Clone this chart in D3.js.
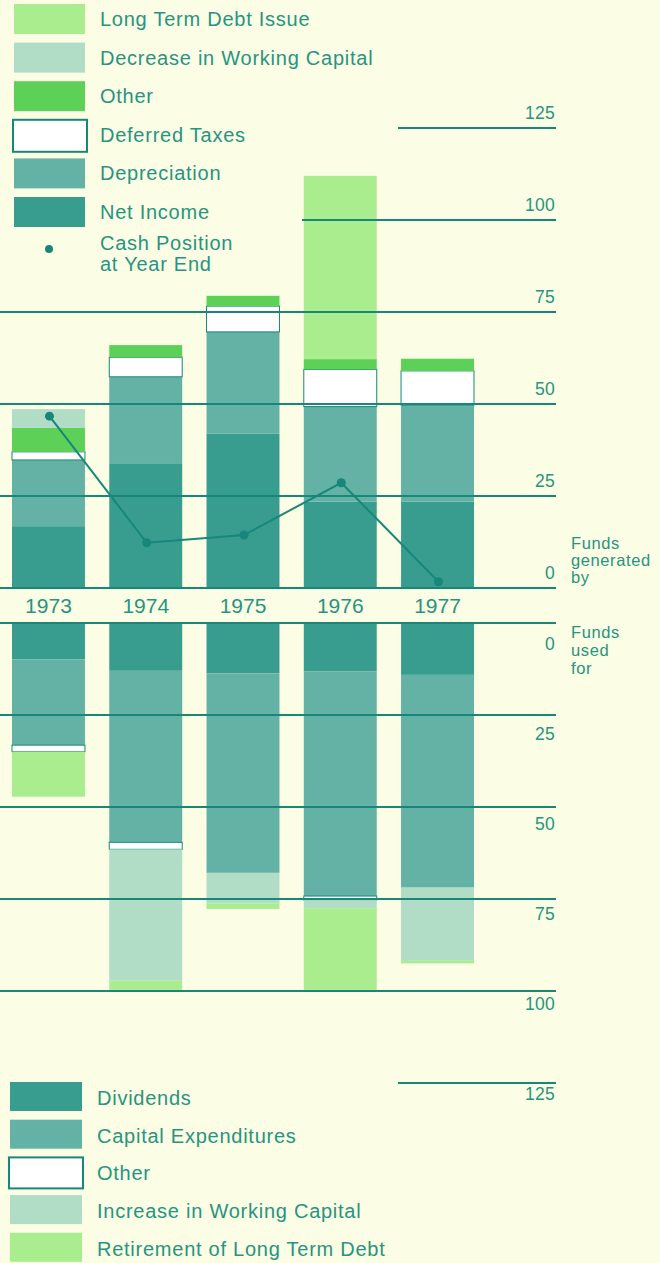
<!DOCTYPE html>
<html>
<head>
<meta charset="utf-8">
<script src="https://cdn.jsdelivr.net/npm/d3@7"></script>
<style>
  html, body { margin: 0; padding: 0; background: #fbfde4; }
  svg { display: block; }
  text { font-family: "Liberation Sans", Arial, sans-serif; fill: #279481; }
</style>
</head>
<body>
<svg id="chart" width="660" height="1263"></svg>
<script>
// ---------- DATA ----------
const years = ["1973", "1974", "1975", "1976", "1977"];

// Funds generated by (upper chart), stacked bottom to top
const netIncome     = [16.8, 33.9, 42.0, 23.5, 23.5];
const depreciation  = [18.0, 23.5, 27.6, 25.8, 26.2];
const deferredTaxes = [2.2, 5.3, 7.0, 10.1, 9.3];
const otherSources  = [6.5, 3.3, 2.8, 2.8, 3.3];
const decreaseWC    = [5.1, 0, 0, 0, 0];
const ltdIssue      = [0, 0, 0, 49.8, 0];
const cashPosition  = [46.7, 12.3, 14.4, 28.6, 1.7];

// Funds used for (lower chart), stacked top to bottom
const dividends     = [9.9, 13.0, 13.7, 13.2, 14.1];
const capex         = [23.3, 46.6, 54.2, 61.0, 57.8];
const otherUses     = [1.8, 1.9, 0, 1.1, 0];
const increaseWC    = [0, 35.7, 8.3, 2.2, 19.9];
const ltdRetirement = [12.2, 2.5, 1.5, 22.2, 0.7];

const tickValues = [0, 25, 50, 75, 100, 125];

const topLegendLabels = ["Long Term Debt Issue", "Decrease in Working Capital", "Other",
                         "Deferred Taxes", "Depreciation", "Net Income"];
const cashLegendLabel = ["Cash Position", "at Year End"];
const bottomLegendLabels = ["Dividends", "Capital Expenditures", "Other",
                            "Increase in Working Capital", "Retirement of Long Term Debt"];

// ---------- STYLE ----------
const C = {
  line: "#17877b",
  netIncome: "#389d8f",
  depreciation: "#63b2a5",
  white: "#ffffff",
  other: "#5dd157",
  wc: "#b1dcc5",
  ltd: "#a9ed8f"
};

const svg = d3.select("#chart");
svg.append("rect").attr("width", 660).attr("height", 1263).attr("fill", "#fbfde4");

const x = d3.scaleBand().domain(years).range([12, 474]).paddingInner(0.25).paddingOuter(0);
const yTop = d3.scaleLinear().domain([0, 125]).range([588, 128]);
const yBot = d3.scaleLinear().domain([0, 125]).range([623, 1083]);
const yBotLabel = d3.scaleLinear().domain([0, 125]).range([650, 1100]);

// ---------- TOP STACK ----------
const topKeys = ["netIncome", "depreciation", "deferredTaxes", "otherSources", "decreaseWC", "ltdIssue"];
const topFill = { netIncome: C.netIncome, depreciation: C.depreciation, deferredTaxes: C.white,
                  otherSources: C.other, decreaseWC: C.wc, ltdIssue: C.ltd };
const topRows = years.map((y, i) => ({
  year: y, netIncome: netIncome[i], depreciation: depreciation[i], deferredTaxes: deferredTaxes[i],
  otherSources: otherSources[i], decreaseWC: decreaseWC[i], ltdIssue: ltdIssue[i]
}));
const topStack = d3.stack().keys(topKeys)(topRows);

const gTop = svg.append("g");
topStack.forEach(layer => {
  gTop.selectAll(null).data(layer.filter(d => d[1] - d[0] > 0)).join("rect")
    .attr("x", d => x(d.data.year))
    .attr("width", x.bandwidth())
    .attr("y", d => yTop(d[1]))
    .attr("height", d => yTop(d[0]) - yTop(d[1]))
    .attr("fill", topFill[layer.key])
    .attr("stroke", layer.key === "deferredTaxes" ? C.line : "none")
    .attr("stroke-width", layer.key === "deferredTaxes" ? 1 : 0);
});

// ---------- BOTTOM STACK ----------
const botKeys = ["dividends", "capex", "otherUses", "increaseWC", "ltdRetirement"];
const botFill = { dividends: C.netIncome, capex: C.depreciation, otherUses: C.white,
                  increaseWC: C.wc, ltdRetirement: C.ltd };
const botRows = years.map((y, i) => ({
  year: y, dividends: dividends[i], capex: capex[i], otherUses: otherUses[i],
  increaseWC: increaseWC[i], ltdRetirement: ltdRetirement[i]
}));
const botStack = d3.stack().keys(botKeys)(botRows);

const gBot = svg.append("g");
botStack.forEach(layer => {
  gBot.selectAll(null).data(layer.filter(d => d[1] - d[0] > 0)).join("rect")
    .attr("x", d => x(d.data.year))
    .attr("width", x.bandwidth())
    .attr("y", d => yBot(d[0]))
    .attr("height", d => yBot(d[1]) - yBot(d[0]))
    .attr("fill", botFill[layer.key])
    .attr("stroke", layer.key === "otherUses" ? C.line : "none")
    .attr("stroke-width", layer.key === "otherUses" ? 1 : 0);
});

// ---------- GRIDLINES & TICK LABELS ----------
const gridStartTop = { 0: 0, 25: 0, 50: 0, 75: 0, 100: 302, 125: 398 };
const gridStartBot = { 0: 0, 25: 0, 50: 0, 75: 0, 100: 0, 125: 398 };
const gridEnd = 556;

const gGrid = svg.append("g");
gGrid.selectAll("line.top").data(tickValues).join("line")
  .attr("class", "top")
  .attr("x1", d => gridStartTop[d]).attr("x2", gridEnd)
  .attr("y1", d => yTop(d)).attr("y2", d => yTop(d))
  .attr("stroke", C.line).attr("stroke-width", 2);
gGrid.selectAll("text.top").data(tickValues).join("text")
  .attr("class", "top")
  .attr("x", 555).attr("y", d => yTop(d) - 9)
  .attr("text-anchor", "end").attr("font-size", 17.5).attr("letter-spacing", 0.3)
  .text(d => d);

gGrid.selectAll("line.bot").data(tickValues).join("line")
  .attr("class", "bot")
  .attr("x1", d => gridStartBot[d]).attr("x2", gridEnd)
  .attr("y1", d => yBot(d)).attr("y2", d => yBot(d))
  .attr("stroke", C.line).attr("stroke-width", 2);
gGrid.selectAll("text.bot").data(tickValues).join("text")
  .attr("class", "bot")
  .attr("x", 555).attr("y", d => yBotLabel(d))
  .attr("text-anchor", "end").attr("font-size", 17.5).attr("letter-spacing", 0.3)
  .text(d => d);

// Year labels
svg.append("g").selectAll("text").data(years).join("text")
  .attr("x", d => x(d) + x.bandwidth() / 2)
  .attr("y", 613)
  .attr("text-anchor", "middle").attr("font-size", 21)
  .text(d => d);

// Side captions
const capGen = svg.append("text").attr("x", 571).attr("y", 549).attr("font-size", 16.5).attr("letter-spacing", 0.6);
["Funds", "generated", "by"].forEach((t, i) =>
  capGen.append("tspan").attr("x", 571).attr("dy", i ? 17 : 0).text(t));
const capUse = svg.append("text").attr("x", 571).attr("y", 638).attr("font-size", 16.5).attr("letter-spacing", 0.6);
["Funds", "used", "for"].forEach((t, i) =>
  capUse.append("tspan").attr("x", 571).attr("dy", i ? 18 : 0).text(t));

// ---------- CASH POSITION LINE ----------
const cashPts = years.map((y, i) => [x(y) + x.bandwidth() / 2 + 1, yTop(cashPosition[i])]);
svg.append("path").datum(cashPts)
  .attr("d", d3.line())
  .attr("fill", "none").attr("stroke", C.line).attr("stroke-width", 2);
svg.append("g").selectAll("circle").data(cashPts).join("circle")
  .attr("cx", d => d[0]).attr("cy", d => d[1]).attr("r", 4.5)
  .attr("fill", C.line);

// ---------- LEGENDS ----------
const topLegendFill = [C.ltd, C.wc, C.other, C.white, C.depreciation, C.netIncome];
const gLegTop = svg.append("g");
topLegendLabels.forEach((lab, i) => {
  const cy = 19 + i * 38.6;
  const outlined = lab === "Deferred Taxes";
  gLegTop.append("rect")
    .attr("x", outlined ? 13 : 14).attr("y", cy - 15)
    .attr("width", outlined ? 74 : 71).attr("height", outlined ? 32 : 30)
    .attr("fill", topLegendFill[i])
    .attr("stroke", outlined ? C.line : "none").attr("stroke-width", outlined ? 2 : 0);
  gLegTop.append("text").attr("x", 100).attr("y", cy + 7).attr("font-size", 20)
    .attr("letter-spacing", 0.75).text(lab);
});
gLegTop.append("circle").attr("cx", 49).attr("cy", 249).attr("r", 4).attr("fill", C.line);
cashLegendLabel.forEach((t, i) =>
  gLegTop.append("text").attr("x", 100).attr("y", 250 + i * 21).attr("font-size", 20)
    .attr("letter-spacing", 0.75).text(t));

const botLegendFill = [C.netIncome, C.depreciation, C.white, C.wc, C.ltd];
const gLegBot = svg.append("g");
bottomLegendLabels.forEach((lab, i) => {
  const cy = 1097 + i * 37.7;
  const outlined = lab === "Other";
  gLegBot.append("rect")
    .attr("x", outlined ? 9 : 10).attr("y", cy - 15)
    .attr("width", outlined ? 74 : 72).attr("height", outlined ? 31 : 29)
    .attr("fill", botLegendFill[i])
    .attr("stroke", outlined ? C.line : "none").attr("stroke-width", outlined ? 2 : 0);
  gLegBot.append("text").attr("x", 97).attr("y", cy + 8).attr("font-size", 20)
    .attr("letter-spacing", 0.75).text(lab);
});
</script>
</body>
</html>
